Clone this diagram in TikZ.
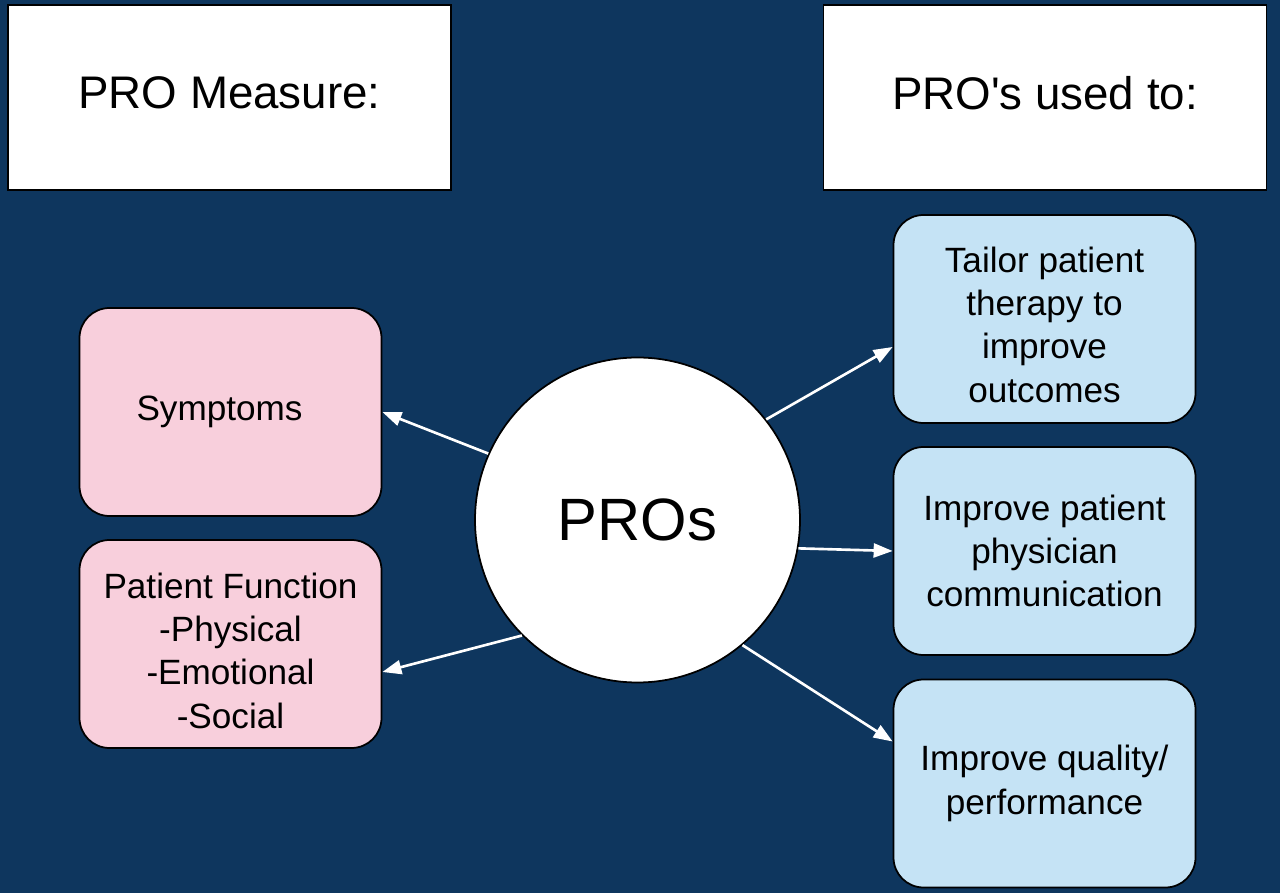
\documentclass[tikz,border=0pt]{standalone}
\usepackage{fontspec}
\setmainfont{Liberation Sans}[Ligatures=TeXOff]
\usepackage{xcolor}
\usepackage{tikz}
\usetikzlibrary{shapes.geometric, arrows.meta, positioning, calc}
\definecolor{bgblue}{RGB}{14,54,94}
\definecolor{measurefill}{RGB}{248,207,220}
\definecolor{usefill}{RGB}{197,227,245}
\tikzset{
    headblock/.style={
        rectangle,
        draw=black,
        line width=1pt,
        fill=white,
        text centered,
        text depth=0.2cm,
        minimum width=8.86cm,
        minimum height=3.7cm,
        font=\fontsize{26}{31}\selectfont
    },
    itemblock/.style={
        rectangle,
        rounded corners=0.6cm,
        draw=black,
        line width=1pt,
        align=center,
        minimum width=6.04cm,
        minimum height=4.16cm,
        font=\fontsize{20}{24.6}\selectfont
    },
    measureblock/.style={
        itemblock,
        fill=measurefill
    },
    useblock/.style={
        itemblock,
        fill=usefill
    },
    hubnode/.style={
        circle,
        draw=black,
        line width=1pt,
        fill=white,
        minimum size=6.5cm,
        font=\fontsize{34}{40}\selectfont
    },
    connection/.style={
        draw=white,
        line width=1.5pt,
        -{Triangle[length=0.38cm,width=0.28cm]}
    }
}
\begin{document}
\begin{tikzpicture}
\fill[bgblue] (0,0) rectangle (25.6,17.86);
\useasboundingbox (0,0) rectangle (25.6,17.86);
% Headers
\node[headblock] (measurehead) at (4.59,15.91) {PRO Measure:};
\node[headblock] (usehead) at (20.9,15.91) {PRO's used to:};
% Centre
\node[hubnode] (pros) at (12.75,7.46) {PROs};
% Measures
\node[measureblock] (symptoms) at (4.61,9.62) {Symptoms\hspace*{0.44cm}};
\node[measureblock] (function) at (4.61,4.98) {\rule{0pt}{0.78cm}Patient Function\\-Physical\\-Emotional\\-Social};
% Uses
\node[useblock] (tailor) at (20.89,11.48) {\rule{0pt}{0.74cm}Tailor patient\\therapy to\\improve\\outcomes};
\node[useblock] (communication) at (20.89,6.84) {Improve patient\\physician\\communication};
\node[useblock] (quality) at (20.89,2.19) {Improve quality/\\performance};

\draw[connection] (pros.156) -- (symptoms.east);
\draw[connection] (pros.225) -- ([yshift=-0.56cm]function.east);
\draw[connection] (pros.38) -- ([yshift=-0.56cm]tailor.west);
\draw[connection] (pros.-10) -- (communication.west);
\draw[connection] (pros.-50) -- ([yshift=0.84cm]quality.west);
\end{tikzpicture}
\end{document}
